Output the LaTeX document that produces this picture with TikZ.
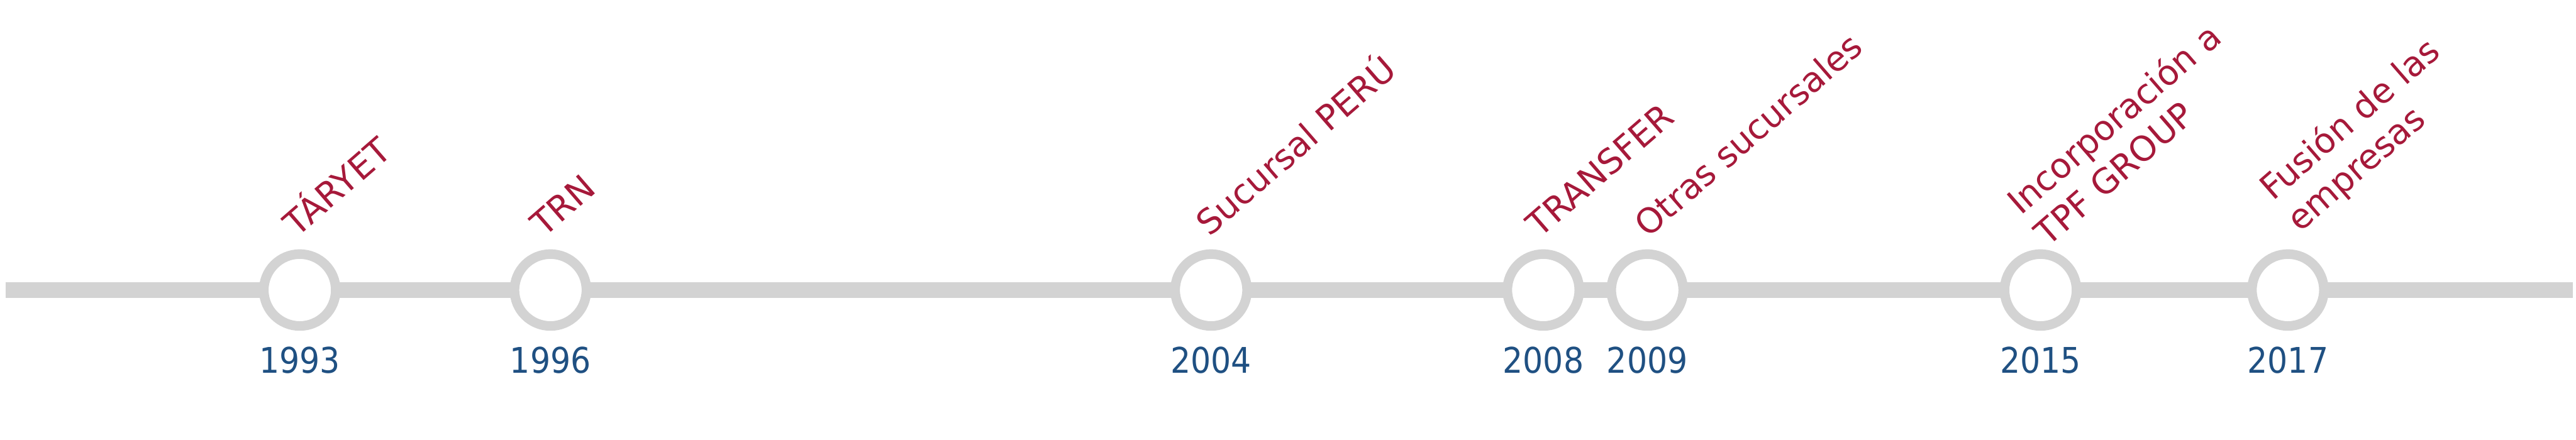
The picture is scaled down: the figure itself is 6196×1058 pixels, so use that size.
\documentclass[tikz,border=0pt]{standalone}
\usepackage{fontspec}
\setmainfont{DejaVu Sans}
\newfontfamily\yearfont[FakeStretch=0.9]{DejaVu Sans}
\definecolor{evred}{RGB}{166,25,58}
\definecolor{evblue}{RGB}{31,80,130}
\definecolor{tlgrey}{RGB}{211,211,211}
\begin{document}
\begin{tikzpicture}[x=0.1pt,y=-0.1pt,
  ring/.style={circle,draw=tlgrey,line width=2.3pt,fill=white,minimum size=17.3pt,inner sep=0pt,outer sep=0pt},
  axis/.style={draw=tlgrey,line width=3.8pt},
  year/.style={anchor=base,inner sep=0pt,text=evblue,font=\yearfont\fontsize{8.5}{10}\selectfont},
  event/.style={anchor=base west,inner sep=0pt,rotate=41,text=evred,font=\fontsize{8.3}{10}\selectfont}]
\useasboundingbox (0,0) rectangle (6196,1058);
\coordinate (lstart) at (13,698);
\coordinate (lend) at (6188,698);
% milestones
\node[ring] (c1993) at (721,698) {};
\node[ring] (c1996) at (1324,698) {};
\node[ring] (c2004) at (2913,698) {};
\node[ring] (c2008) at (3712,698) {};
\node[ring] (c2009) at (3962,698) {};
\node[ring] (c2015) at (4908,698) {};
\node[ring] (c2017) at (5503,698) {};
% axis
\draw[axis] (lstart) -- (c1993) -- (c1996) -- (c2004) -- (c2008) -- (c2009) -- (c2015) -- (c2017) -- (lend);
% years
\node[year] (y1993) at (721,898) {1993};
\node[year] (y1996) at (1324,898) {1996};
\node[year] (y2004) at (2913,898) {2004};
\node[year] (y2008) at (3712,898) {2008};
\node[year] (y2009) at (3962,898) {2009};
\node[year] (y2015) at (4908,898) {2015};
\node[year] (y2017) at (5503,898) {2017};
% events
\node[event] (e1993) at (713,574) {TÁRYET};
\node[event] (e1996) at (1307,574) {TRN};
\node[event] (e2004) at (2908,572) {Sucursal PERÚ};
\node[event] (e2008) at (3703,576) {TRANSFER};
\node[event] (e2009) at (3962,576) {Otras sucursales};
\node[event] (e2015) at (4925,597) {\begin{tabular}[b]{@{}l@{}}Incorporación a\\TPF GROUP\end{tabular}};
\node[event] (e2017) at (5531,562) {\begin{tabular}[b]{@{}l@{}}Fusión de las\\empresas\end{tabular}};
\end{tikzpicture}
\end{document}
